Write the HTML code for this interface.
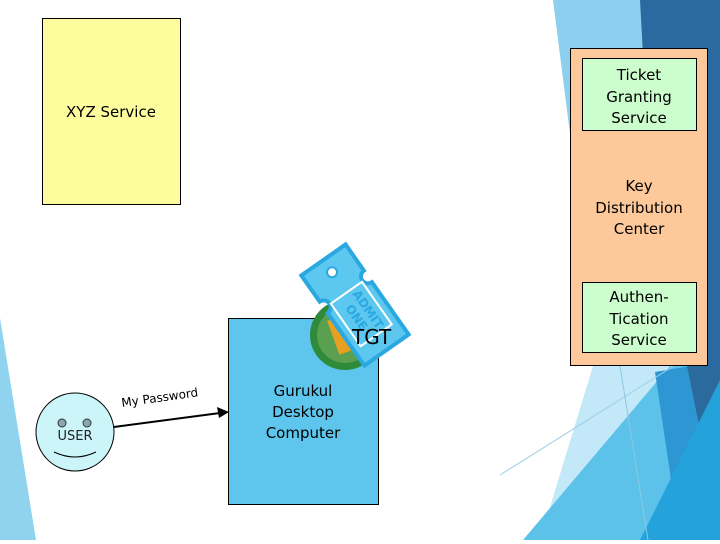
<!DOCTYPE html>
<html><head><meta charset="utf-8"><style>
body{margin:0;width:720px;height:540px;overflow:hidden;background:#fff;font-family:"DejaVu Sans","Liberation Sans",sans-serif;}
</style></head><body>
<svg width="720" height="540" viewBox="0 0 720 540" xmlns="http://www.w3.org/2000/svg" font-family="DejaVu Sans, Liberation Sans, sans-serif">
<polygon points="0,318 36,540 0,540" fill="#8fd3ef"/>
<polygon points="553,0 640,0 690,380 600,370" fill="#8ccfee"/>
<polygon points="640,0 720,0 720,430 687,430 660,366" fill="#2b6aa0"/>
<polygon points="593,366 680,366 600,540 540,540" fill="#c3e8f8"/>
<polygon points="670,366 720,366 720,540 523,540" fill="#5cc2ea"/>
<polygon points="655,372 690,366 720,366 720,540 680,540" fill="#2e96d2"/>
<polygon points="687,366 720,366 720,430 700,430" fill="#2a6a9c"/>
<polygon points="720,380 640,540 720,540" fill="#23a2dc"/>
<line x1="500" y1="475" x2="680" y2="362" stroke="#9fd0e6" stroke-width="1"/>
<line x1="620" y1="366" x2="648" y2="540" stroke="#8cc8e2" stroke-width="1"/>

<rect x="42.5" y="18.5" width="138" height="186" fill="#fdfd9e" stroke="#000"/>
<text x="111" y="117" font-size="15" text-anchor="middle">XYZ Service</text>

<rect x="570.5" y="48.5" width="137" height="317" fill="#fdc99a" stroke="#000"/>
<rect x="582.5" y="58.5" width="114" height="72" fill="#ccfdcc" stroke="#000"/>
<g font-size="15" text-anchor="middle">
<text x="639" y="80">Ticket</text><text x="639" y="102">Granting</text><text x="639" y="123">Service</text>
<text x="639" y="191">Key</text><text x="639" y="213">Distribution</text><text x="639" y="234">Center</text>
</g>
<rect x="582.5" y="282.5" width="114" height="70" fill="#ccfdcc" stroke="#000"/>
<g font-size="15" text-anchor="middle">
<text x="639" y="302">Authen-</text><text x="639" y="324">Tication</text><text x="639" y="345">Service</text>
</g>

<rect x="228.5" y="318.5" width="150" height="186" fill="#5ec6ec" stroke="#000"/>
<g font-size="15" text-anchor="middle">
<text x="303" y="396">Gurukul</text><text x="303" y="417">Desktop</text><text x="303" y="438">Computer</text>
</g>

<!-- TGT icon -->
<circle cx="345" cy="335" r="35" fill="#2f8a3a"/>
<circle cx="345" cy="335" r="28" fill="#5aa050"/>
<rect x="333" y="316" width="20" height="36" fill="#e8a020" transform="rotate(-20 344 335)"/>
<g transform="rotate(-35 355 305)">
<path d="M328,250 h54 v32 a7,7 0 0 0 0,14 v64 h-54 v-64 a7,7 0 0 0 0,-14 z" fill="#5cc8f0" stroke="#2aa8e0" stroke-width="4"/>
<circle cx="355" cy="265" r="5" fill="#fff" stroke="#2aa8e0" stroke-width="2"/>
<rect x="336" y="290" width="38" height="52" fill="none" stroke="#fff" stroke-width="2"/>
<g transform="rotate(90 355 316)">
<text x="355" y="312" font-size="12" font-weight="bold" fill="#2aa8e0" text-anchor="middle">ADMIT</text>
<text x="355" y="326" font-size="12" font-weight="bold" fill="#2aa8e0" text-anchor="middle">ONE</text>
</g>
</g>
<text x="352" y="344" font-size="20" fill="#000">TGT</text>

<circle cx="75" cy="432" r="39" fill="#ccf5fa" stroke="#000"/>
<circle cx="62" cy="423" r="4" fill="#8aa8a8" stroke="#334"/>
<circle cx="87" cy="423" r="4" fill="#8aa8a8" stroke="#334"/>
<text x="75" y="440" font-size="13" text-anchor="middle" fill="#222">USER</text>
<path d="M54,452 Q75,462 96,452" fill="none" stroke="#000"/>

<line x1="114" y1="427" x2="220" y2="413" stroke="#000" stroke-width="2"/>
<polygon points="229,412 217,407 219,418" fill="#000"/>
<text x="122" y="407" font-size="12" transform="rotate(-8 122 407)">My Password</text>
</svg>
</body></html>
